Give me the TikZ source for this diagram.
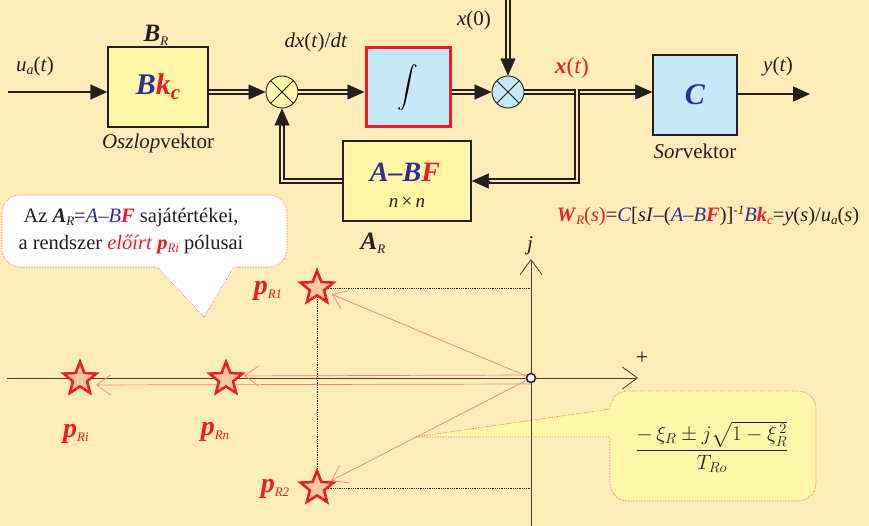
\documentclass[tikz,border=0pt]{standalone}
\usepackage{amsmath}
\usepackage{fontspec}
\setmainfont{Liberation Serif}
\usetikzlibrary{arrows.meta,shapes.geometric,calc}
\definecolor{bg}{HTML}{FFECB9}
\definecolor{boxy}{HTML}{FFF6A6}
\definecolor{boxb}{HTML}{C6E8F8}
\definecolor{rd}{HTML}{EC1C24}
\definecolor{bl}{HTML}{2E3192}
\definecolor{txt}{HTML}{231F20}
\definecolor{peach}{HTML}{F9C89B}
\definecolor{lred}{HTML}{F08080}
\definecolor{cally}{HTML}{FFF7A8}
\newcommand{\fs}[1]{\fontsize{#1}{#1}\selectfont}
\newcommand{\bi}[1]{\textbf{\textit{#1}}}
\newcommand{\lo}[3]{\raisebox{-#1}{\fs{#2}#3}}
\tikzset{
 blk/.style={draw=txt, line width=1.5pt, minimum width=100pt, minimum height=80pt, inner sep=0pt},
 sumj/.style={circle, draw=txt, line width=0.9pt, minimum size=32pt, inner sep=0pt,
   path picture={\draw[txt, line width=0.9pt] (path picture bounding box.north west) -- (path picture bounding box.south east) (path picture bounding box.north east) -- (path picture bounding box.south west);}},
 dbl/.style={draw=txt, double=bg, double distance=2.4pt, line width=1.7pt, shorten >=15pt},
 tipb/.style={-{Triangle[length=17pt,width=15pt]}, draw=txt, fill=txt, line width=0.4pt},
 sgl/.style={draw=txt, line width=1.6pt, -{Triangle[length=17pt,width=15pt]}},
 lbl/.style={text=txt, inner sep=0pt, font=\fs{21}},
 axis/.style={draw=txt!85, line width=0.8pt, -{Straight Barb[length=15pt,width=22pt,line width=0.8pt]}},
 dots/.style={draw=txt, line width=0.8pt, densely dotted},
 redarr/.style={draw=lred, line width=0.7pt, -{Straight Barb[length=14pt,width=20pt,line width=0.7pt]}},
 pstar/.style={star, star points=5, star point ratio=2.3, minimum size=34pt, inner sep=0pt, draw=rd, fill=peach, line width=2.4pt},
 plab/.style={text=rd, inner sep=0pt},
 bubst/.style={draw=rd!80, line width=0.6pt, densely dotted},
}
\begin{document}
\begin{tikzpicture}[x=1pt,y=-1pt]
\useasboundingbox (0,0) rectangle (869,526);
\fill[bg] (0,0) rectangle (869,526);

% ---- block diagram ----
\node[blk, fill=boxy] (bk) at (158,87) {\fs{30}\bi{\textcolor{bl}{B}\textcolor{rd}{k}\lo{5pt}{21}{\textcolor{rd}{c}}}};
\node[blk, fill=boxb, draw=rd, line width=3pt, minimum width=84pt, minimum height=79pt] (int) at (408,87.5) {\fs{22}$\displaystyle\int$};
\node[sumj, fill=boxy] (s1) at (282,92) {};
\node[sumj, fill=boxb] (s2) at (508,92) {};
\node[blk, fill=boxb, minimum width=84pt] (C) at (695,95) {\fs{30}\textcolor{bl}{\bi{C}}};
\node[blk, fill=boxy, minimum width=128pt] (abf) at (407,181) {};
\node[inner sep=0pt, font=\fs{28}] (abft) at (405,172) {\bi{\textcolor{bl}{A–B}\textcolor{rd}{F}}};
\node[inner sep=0pt, font=\fs{19}, text=txt] (nxn) at (407,202) {\textit{n}\,×\,\textit{n}};

\coordinate (uin) at (8,92);
\coordinate (x0) at (508,0);
\coordinate (br) at (577,89.5);
\coordinate (yo) at (810,94);

\draw[sgl] (uin) -- (uin -| bk.west);
\draw[dbl] (bk.east |- s1) -- (s1.west);
\draw[tipb] ($(s1.west)+(-17,0)$) -- (s1.west);
\draw[dbl] (s1.east) -- (s1 -| int.west);
\draw[tipb] ($(s1 -| int.west)+(-17,0)$) -- (s1 -| int.west);
\draw[dbl] (int.east |- s2) -- (s2.west);
\draw[tipb] ($(s2.west)+(-17,0)$) -- (s2.west);
\draw[dbl] (x0) -- (s2.north);
\draw[tipb] ($(s2.north)+(0,-17)$) -- (s2.north);
\draw[dbl] (s2.east) -- (s2 -| C.west);
\draw[tipb] ($(s2 -| C.west)+(-17,0)$) -- (s2 -| C.west);
\draw[dbl] (br) |- (abf.east);
\draw[tipb] ($(abf.east)+(17,0)$) -- (abf.east);
\draw[dbl] (abf.west) -| (s1.south);
\draw[tipb] ($(s1.south)+(0,17)$) -- (s1.south);
\draw[sgl] (C.east |- yo) -- (yo);

% labels
\node[lbl] (lua) at (35,66) {\textit{u}\lo{3pt}{14}{\textit{a}}(\textit{t})};
\node[lbl] (lbr) at (156,35) {\fs{25}\bi{B}\lo{4pt}{13}{\textit{R}}};
\node[lbl] (losz) at (158,143) {\textit{Oszlop}vektor};
\node[lbl] (ldx) at (316,42) {\textit{dx}(\textit{t})/\textit{dt}};
\node[lbl] (lx0) at (474,20) {\textit{x}(0)};
\node[lbl, text=rd] (lxt) at (572,68) {\fs{23}\bi{x}(\textit{t})};
\node[lbl] (lyt) at (778,66) {\textit{y}(\textit{t})};
\node[lbl] (lsor) at (695,151) {\textit{Sor}vektor};
\node[lbl] (lar) at (373,243) {\fs{25}\bi{A}\lo{4pt}{13}{\textit{R}}};
\node[lbl, font=\fs{20.5}] (lw) at (708,216) {\textcolor{rd}{\bi{W}\lo{3pt}{13}{\textit{R}}(\textit{s})}=\textcolor{bl}{\textit{C}}[\textit{sI}–(\textcolor{bl}{\textit{A}–\textit{B}}\textcolor{rd}{\bi{F}})]\raisebox{7pt}{\fs{13}\textit{-1}}\textcolor{bl}{\textit{B}}\textcolor{rd}{\bi{k}\lo{3pt}{13}{\textit{c}}}=\textit{y}(\textit{s})/\textit{u}\lo{3pt}{13}{\textit{a}}(\textit{s})};

% ---- callout 1 ----
\draw[bubst, fill=white, rounded corners=18pt] (2,195) rectangle (287,267);
\fill[white] (154,265) -- (204,317) -- (237,265) -- cycle;
\draw[bubst] (157,267) -- (204,317) -- (234,267);
\node[text=txt, align=center, inner sep=0pt, font=\fontsize{20.5}{27}\selectfont] (btxt) at (131,231)
 {Az \bi{A}\lo{3pt}{13}{\textit{R}}=\textcolor{bl}{\textit{A}–\textit{B}}\textcolor{rd}{\bi{F}} sajátértékei,\\
  a rendszer \textcolor{rd}{\textit{előírt} \bi{p}\lo{3pt}{13}{\textit{Ri}}} pólusai};

% ---- callout 2 ----
\draw[bubst, fill=cally, rounded corners=18pt] (610,391) rectangle (816,501);
\fill[cally] (612,407) -- (414,437) -- (612,438.5) -- cycle;
\draw[bubst] (610,409) -- (414,437) -- (610,437);
\node[text=txt, inner sep=0pt, font=\fs{20}] (frm) at (712,447) {$\displaystyle\frac{-\,\xi_R \pm j\sqrt{1-\xi_R^{\,2}}}{T_{Ro}}$};

% ---- complex plane ----
\coordinate (O) at (531,378);
\node[pstar] (pR1) at (317,288) {};
\node[pstar] (pR2) at (317,488) {};
\node[pstar] (pRn) at (226,379) {};
\node[pstar] (pRi) at (80,379) {};
\coordinate (xl) at (7,378);
\coordinate (xr) at (638,378);
\coordinate (yb) at (531,526);
\coordinate (yt) at (531,259);

\draw[dots] (pR1.center) -- (pR1 -| O);
\draw[dots] (pR2.center) -- (pR2 -| O);
\draw[dots] (pR1.center) -- (pR2.center);
\draw[axis] (xl) -- (xr);
\draw[axis] (yb) -- (yt);
\draw[redarr, shorten >=16pt] (O) -- (pR1.center);
\draw[redarr, shorten >=16pt] (O) -- (pR2.center);
\draw[redarr, shorten >=18pt] ([yshift=3pt]O) -- ([yshift=3pt]pRn.center);
\draw[redarr, shorten >=16pt] ([yshift=-6pt]O) -- ([yshift=-6pt]pRi.center);
\foreach \s in {pR1,pR2,pRn,pRi} \node[pstar] at (\s) {};
\draw[txt, fill=white, line width=1.5pt] (O) circle (4.5pt);

\node[lbl, font=\fs{22}] (lplus) at (642,358) {+};
\node[lbl] (lj) at (530,246) {\textit{j}};
\node[plab] (lR1) at (268,291) {\fs{28}\bi{p}\lo{4pt}{13}{\textit{R1}}};
\node[plab] (lR2) at (275,489) {\fs{28}\bi{p}\lo{4pt}{13}{\textit{R2}}};
\node[plab] (lRn) at (215,432) {\fs{28}\bi{p}\lo{4pt}{13}{\textit{Rn}}};
\node[plab] (lRi) at (76,434) {\fs{28}\bi{p}\lo{4pt}{13}{\textit{Ri}}};
\end{tikzpicture}
\end{document}
